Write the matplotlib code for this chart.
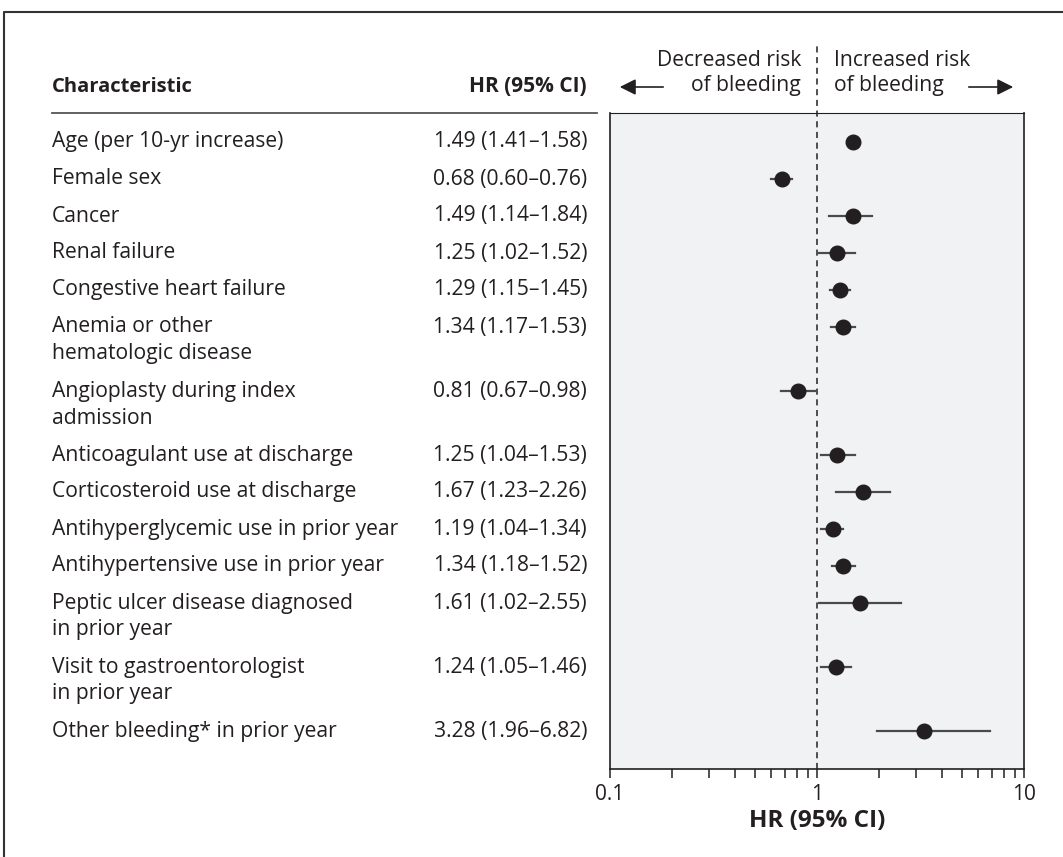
import matplotlib
matplotlib.use("Agg")
import matplotlib.pyplot as plt
import matplotlib.transforms as mtransforms
from matplotlib.lines import Line2D
from matplotlib.patches import FancyArrowPatch

plt.rcParams['font.family'] = ['Open Sans', 'DejaVu Sans']

# Datos
characteristics = [
    "Age (per 10-yr increase)",
    "Female sex",
    "Cancer",
    "Renal failure",
    "Congestive heart failure",
    "Anemia or other\nhematologic disease",
    "Angioplasty during index\nadmission",
    "Anticoagulant use at discharge",
    "Corticosteroid use at discharge",
    "Antihyperglycemic use in prior year",
    "Antihypertensive use in prior year",
    "Peptic ulcer disease diagnosed\nin prior year",
    "Visit to gastroentorologist\nin prior year",
    "Other bleeding* in prior year",
]
hr = [1.49, 0.68, 1.49, 1.25, 1.29, 1.34, 0.81, 1.25, 1.67, 1.19, 1.34, 1.61, 1.24, 3.28]
ci_low = [1.41, 0.60, 1.14, 1.02, 1.15, 1.17, 0.67, 1.04, 1.23, 1.04, 1.18, 1.02, 1.05, 1.96]
ci_high = [1.58, 0.76, 1.84, 1.52, 1.45, 1.53, 0.98, 1.53, 2.26, 1.34, 1.52, 2.55, 1.46, 6.82]
x_ticks = [0.1, 1, 10]
x_tick_labels = ["0.1", "1", "10"]

text_color = "#231f20"
body_size = 15.2
W, H = 1063, 857
fig = plt.figure(figsize=(W / 100, H / 100), dpi=100)

# Posiciones de las filas (en pixeles respecto a la primera fila)
row_step = 37
line_step = 27
rows_y = []
y = 0
for name in characteristics:
    rows_y.append(y)
    y += row_step + line_step * (name.count("\n"))

ax = fig.add_axes([610 / W, 1 - 769 / H, (1024 - 610) / W, (769 - 113) / H])
ax.set_facecolor("#f1f2f4")
ax.set_xscale("log")
ax.set_xlim(0.1, 10)
ax.set_ylim(627, -29)

# Linea de referencia en HR = 1
ax.plot([1, 1], [627, -96], color=text_color, lw=1.1, ls=(0, (4, 3)), clip_on=False, zorder=2)

# Intervalos y puntos
for yi, h, lo, hi in zip(rows_y, hr, ci_low, ci_high):
    ax.plot([lo, hi], [yi, yi], color="#4a4a4a", lw=1.6, zorder=3)
ax.plot(hr, rows_y, "o", color="#231f20", markersize=10.5, zorder=4)

for s in ax.spines.values():
    s.set_color(text_color)
    s.set_linewidth(1.2)
ax.spines["top"].set_linewidth(0.8)

ax.set_yticks([])
ax.set_xticks(x_ticks)
ax.set_xticklabels(x_tick_labels, fontsize=15, color=text_color)
ax.tick_params(axis="x", which="both", direction="out", length=6.5, width=1.1, color=text_color, pad=4)
ax.set_xlabel("HR (95% CI)", fontsize=17.5, fontweight="bold", color=text_color, labelpad=3)

# Columnas de texto a la izquierda
trans = mtransforms.blended_transform_factory(fig.transFigure, ax.transData)
for name, yi, h, lo, hi in zip(characteristics, rows_y, hr, ci_low, ci_high):
    for k, line in enumerate(name.split("\n")):
        ax.text(52 / W, yi + k * line_step, line, transform=trans, ha="left", va="center",
                fontsize=body_size, color=text_color, clip_on=False)
    ax.text(587 / W, yi, f"{h:.2f} ({lo:.2f}\u2013{hi:.2f})", transform=trans, ha="right",
            va="center", fontsize=body_size, color=text_color, clip_on=False)

# Encabezados
fig.text(52 / W, 1 - 87 / H, "Characteristic", ha="left", va="center", fontsize=14.5,
         fontweight="bold", color=text_color)
fig.text(587 / W, 1 - 87 / H, "HR (95% CI)", ha="right", va="center", fontsize=15,
         fontweight="bold", color=text_color)
fig.add_artist(Line2D([52 / W, 597 / W], [1 - 113 / H, 1 - 113 / H], color="#555555", lw=1.3))

fig.text(801 / W, 1 - 60 / H, "Decreased risk", ha="right", va="center", fontsize=body_size, color=text_color)
fig.text(801 / W, 1 - 86 / H, "of bleeding", ha="right", va="center", fontsize=body_size, color=text_color)
fig.text(834 / W, 1 - 60 / H, "Increased risk", ha="left", va="center", fontsize=body_size, color=text_color)
fig.text(834 / W, 1 - 86 / H, "of bleeding", ha="left", va="center", fontsize=body_size, color=text_color)

fig.add_artist(FancyArrowPatch((666 / W, 1 - 87 / H), (617 / W, 1 - 87 / H),
               transform=fig.transFigure, arrowstyle="-|>,head_length=8,head_width=4",
               color=text_color, lw=1.2, mutation_scale=1.2))
fig.add_artist(FancyArrowPatch((966 / W, 1 - 87 / H), (1016 / W, 1 - 87 / H),
               transform=fig.transFigure, arrowstyle="-|>,head_length=8,head_width=4",
               color=text_color, lw=1.2, mutation_scale=1.2))

# Marco exterior
fig.add_artist(Line2D([4 / W, 4 / W, 1.0], [0.0, 1 - 12 / H, 1 - 12 / H], color="#333333", lw=1.5))

fig.savefig("out.png", dpi=100)
